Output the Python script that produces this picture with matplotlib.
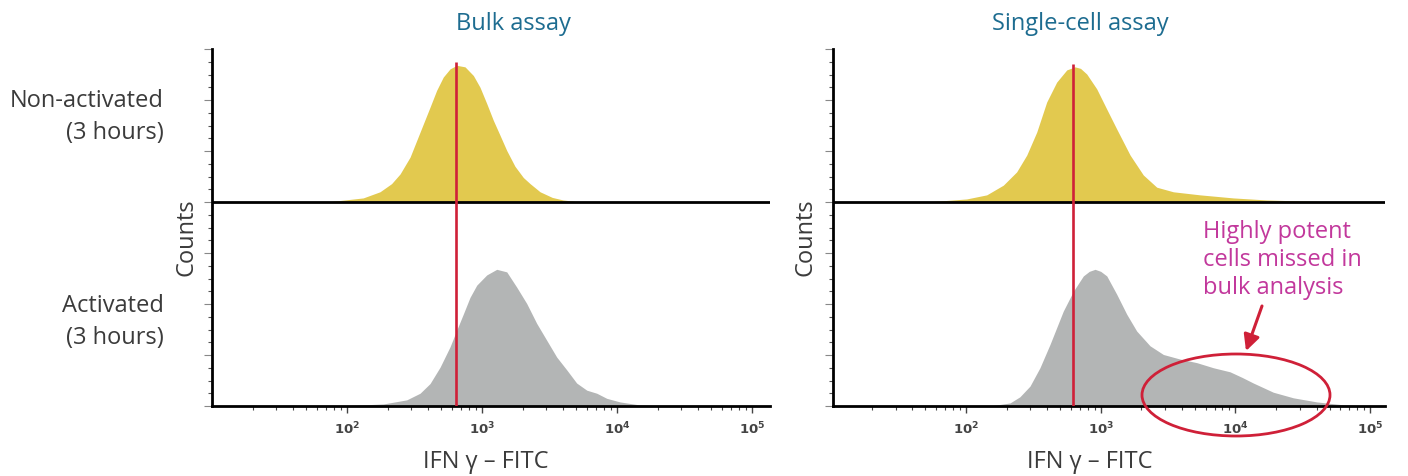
import matplotlib
matplotlib.use("Agg")

import matplotlib.pyplot as plt
import matplotlib.ticker as mticker
from matplotlib.patches import Ellipse

plt.rcParams["font.family"] = ["Open Sans", "DejaVu Sans"]

# Histogram outlines, read as (log10 intensity, counts in grid units)
BULK_REST_LOG = [1.85, 2.12, 2.244, 2.33, 2.393, 2.467, 2.541, 2.615, 2.664, 2.713, 2.763,
                 2.813, 2.874, 2.936, 2.985, 3.035, 3.084, 3.133, 3.183, 3.244, 3.306,
                 3.356, 3.43, 3.52, 3.60, 3.726]
BULK_REST_CNT = [0.0, 0.08, 0.20, 0.36, 0.55, 0.88, 1.37, 1.86, 2.19, 2.45, 2.61,
                 2.68, 2.65, 2.48, 2.25, 1.93, 1.60, 1.31, 1.01, 0.70, 0.48,
                 0.36, 0.20, 0.09, 0.04, 0.0]

BULK_ACT_LOG = [2.022, 2.269, 2.442, 2.541, 2.615, 2.689, 2.763, 2.813, 2.861, 2.911, 2.961,
                3.035, 3.109, 3.183, 3.257, 3.331, 3.405, 3.479, 3.553, 3.627, 3.701,
                3.776, 3.850, 3.924, 4.022, 4.170, 4.368]
BULK_ACT_CNT = [0.01, 0.04, 0.12, 0.25, 0.44, 0.76, 1.16, 1.49, 1.80, 2.13, 2.37,
                2.57, 2.68, 2.63, 2.33, 2.01, 1.62, 1.29, 0.96, 0.71, 0.45,
                0.31, 0.25, 0.15, 0.08, 0.02, 0.0]

SC_REST_LOG = [1.757, 2.005, 2.154, 2.277, 2.376, 2.451, 2.525, 2.599, 2.673, 2.748, 2.809,
               2.850, 2.896, 2.970, 3.045, 3.119, 3.218, 3.316, 3.416, 3.539, 3.737, 3.984,
               4.232, 4.480, 4.800]
SC_REST_CNT = [0.01, 0.06, 0.14, 0.33, 0.59, 0.92, 1.37, 1.96, 2.35, 2.59, 2.65,
               2.62, 2.51, 2.22, 1.82, 1.43, 0.92, 0.53, 0.29, 0.20, 0.14, 0.08,
               0.04, 0.02, 0.0]

SC_ACT_LOG = [2.203, 2.327, 2.40, 2.475, 2.549, 2.624, 2.722, 2.797, 2.871, 2.915, 2.958,
              3.000, 3.045, 3.119, 3.193, 3.267, 3.366, 3.465, 3.589, 3.713, 3.836, 3.960,
              4.050, 4.133, 4.281, 4.430, 4.604, 4.777, 4.975]
SC_ACT_CNT = [0.01, 0.06, 0.18, 0.39, 0.75, 1.21, 1.86, 2.25, 2.55, 2.64, 2.68,
              2.64, 2.55, 2.19, 1.80, 1.47, 1.18, 1.01, 0.92, 0.85, 0.75, 0.67,
              0.56, 0.45, 0.27, 0.16, 0.08, 0.03, 0.0]

# Gate positions (IFN-gamma intensity) and the offset of the upper histogram
GATE_BULK = 641
GATE_SC = 621
UPPER_BASE = 4.0

TITLES = ["Bulk assay", "Single-cell assay"]
XLABEL = "IFN γ – FITC"
YLABEL = "Counts"
ROW_LABELS = [("Non-activated", "(3 hours)"), ("Activated", "(3 hours)")]
NOTE_LINES = ["Highly potent", "cells missed in", "bulk analysis"]
XTICKS = [1e2, 1e3, 1e4, 1e5]
XTICK_LABELS = [r"$\mathbf{10^{2}}$", r"$\mathbf{10^{3}}$", r"$\mathbf{10^{4}}$", r"$\mathbf{10^{5}}$"]

YELLOW = "#e2c94f"
GREY = "#b3b5b5"
RED = "#cf2038"
TITLE_BLUE = "#1d6c90"
TEXT = "#3b3b3b"
MAGENTA = "#c2389c"

W, H = 1408, 477
FS = 17


def fx(px):
    return px / W


def fy(py):
    return 1 - py / H


def style_axes(ax, xlim):
    ax.set_xscale("log")
    ax.set_xlim(*xlim)
    ax.set_ylim(0, 7)
    for side in ("top", "right"):
        ax.spines[side].set_visible(False)
    for side in ("left", "bottom"):
        ax.spines[side].set_linewidth(2.0)
        ax.spines[side].set_color("black")
    ax.set_xticks(XTICKS)
    ax.set_xticklabels(XTICK_LABELS)
    ax.xaxis.set_minor_locator(mticker.LogLocator(base=10, subs=range(2, 10), numticks=20))
    ax.xaxis.set_minor_formatter(mticker.NullFormatter())
    ax.yaxis.set_major_locator(mticker.MultipleLocator(1))
    ax.yaxis.set_minor_locator(mticker.MultipleLocator(0.25))
    ax.yaxis.set_major_formatter(mticker.NullFormatter())
    ax.tick_params(axis="x", which="major", length=5, width=1.0, color="#444444",
                   labelsize=9.5, labelcolor="#444444", pad=5)
    ax.tick_params(axis="x", which="minor", length=3, width=0.8, color="#444444")
    ax.tick_params(axis="y", which="major", length=6, width=0.8, color="#888888")
    ax.tick_params(axis="y", which="minor", length=3, width=0.8, color="#555555")


def draw_panel(ax, rest_log, rest_cnt, act_log, act_cnt, gate, xlim):
    style_axes(ax, xlim)
    rest_x = [10 ** v for v in rest_log]
    act_x = [10 ** v for v in act_log]
    ax.fill_between(rest_x, UPPER_BASE, [UPPER_BASE + c for c in rest_cnt],
                    color=YELLOW, linewidth=0, zorder=2)
    ax.fill_between(act_x, 0, act_cnt, color=GREY, linewidth=0, zorder=2)
    ax.axhline(UPPER_BASE, color="black", linewidth=2.0, zorder=3)
    ax.plot([gate, gate], [0, UPPER_BASE + max(rest_cnt) + 0.06],
            color=RED, linewidth=1.9, zorder=4, solid_capstyle="butt")


fig = plt.figure(figsize=(W / 100, H / 100), dpi=100, facecolor="white")

ax_bulk = fig.add_axes([fx(212), fy(407), fx(770) - fx(212), (407 - 50) / H])
ax_sc = fig.add_axes([fx(833), fy(407), fx(1385) - fx(833), (407 - 50) / H])

draw_panel(ax_bulk, BULK_REST_LOG, BULK_REST_CNT, BULK_ACT_LOG, BULK_ACT_CNT,
           GATE_BULK, (10 ** 1.0, 10 ** 5.133))
draw_panel(ax_sc, SC_REST_LOG, SC_REST_CNT, SC_ACT_LOG, SC_ACT_CNT,
           GATE_SC, (10 ** 1.013, 10 ** 5.11))

# Titles and axis labels
fig.text(fx(513), fy(24), TITLES[0], color=TITLE_BLUE, fontsize=FS, ha="center", va="center")
fig.text(fx(1080), fy(24), TITLES[1], color=TITLE_BLUE, fontsize=FS, ha="center", va="center")
for cx in (486, 1090):
    fig.text(fx(cx), fy(462), XLABEL, color=TEXT, fontsize=FS, ha="center", va="center")
for cx in (187, 806):
    fig.text(fx(cx), fy(237), YLABEL, color=TEXT, fontsize=FS, ha="center", va="center",
             rotation=90)

# Row labels on the left
for (first, second), y0 in zip(ROW_LABELS, (101, 306)):
    fig.text(fx(164), fy(y0), first, color=TEXT, fontsize=FS, ha="right", va="center")
    fig.text(fx(164), fy(y0 + 32), second, color=TEXT, fontsize=FS, ha="right", va="center")

# Callout for the high-expressing tail in the single-cell panel
for i, line in enumerate(NOTE_LINES):
    fig.text(fx(1203), fy(232 + 28 * i), line, color=MAGENTA, fontsize=FS,
             ha="left", va="center")

fig.add_artist(Ellipse((fx(1236), fy(396)), 188 / W, 82 / H, transform=fig.transFigure,
                       fill=False, edgecolor=RED, linewidth=2.0, zorder=5))
ax_sc.annotate("", xy=(fx(1246), fy(352)), xytext=(fx(1262), fy(307)),
               xycoords="figure fraction", textcoords="figure fraction",
               arrowprops=dict(arrowstyle="-|>", color=RED, lw=2.2,
                               mutation_scale=24, shrinkA=0, shrinkB=0))

fig.savefig("out.png", dpi=100, facecolor="white")
